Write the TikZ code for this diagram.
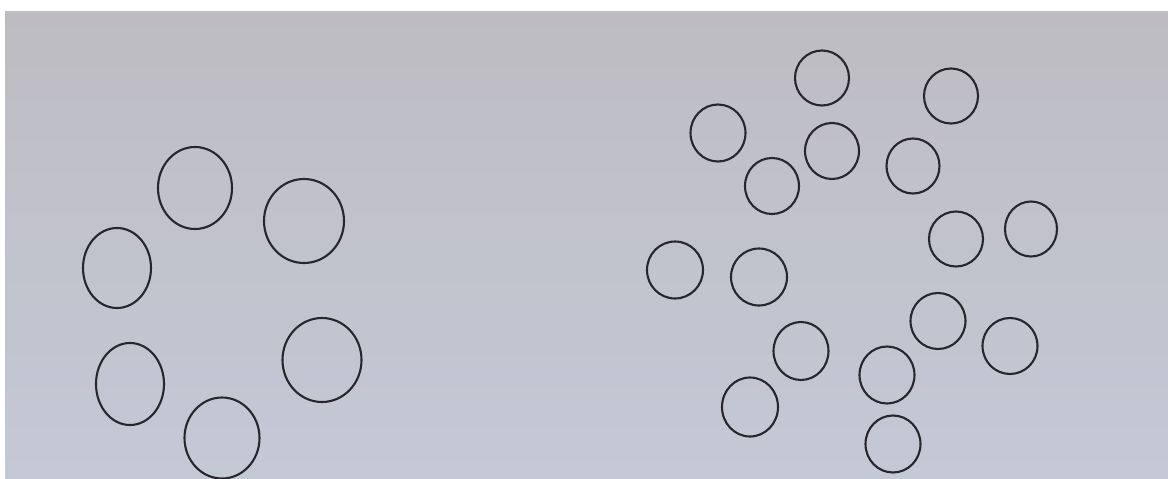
\documentclass[tikz,border=0pt]{standalone}
\usetikzlibrary{shapes.geometric}
\definecolor{paperTop}{RGB}{190,188,194}
\definecolor{paperMid}{RGB}{210,210,216}
\definecolor{paperBot}{RGB}{196,201,214}
\definecolor{ink}{RGB}{38,38,44}
\tikzset{
  ring/.style={ellipse, draw=ink, line width=2.1pt, inner sep=0pt, fill=none},
}
\begin{document}
\begin{tikzpicture}[x=1pt,y=-1pt]
\useasboundingbox (0,0) rectangle (1168,479);
\fill[white] (0,0) rectangle (1168,479);
\shade[top color=paperTop, middle color=paperMid, bottom color=paperBot] (5,11) rectangle (1168,479);
% left group
\node[ring, minimum width=74pt, minimum height=82pt] (L1) at (195,188) {};
\node[ring, minimum width=80pt, minimum height=84pt] (L2) at (304,221) {};
\node[ring, minimum width=68pt, minimum height=80pt] (L3) at (117,268) {};
\node[ring, minimum width=68pt, minimum height=82pt] (L4) at (130,384) {};
\node[ring, minimum width=79pt, minimum height=84pt] (L5) at (322,360) {};
\node[ring, minimum width=75pt, minimum height=81pt] (L6) at (222,438) {};
% right group
\node[ring, minimum width=54pt, minimum height=55pt] (R1) at (822,78) {};
\node[ring, minimum width=54pt, minimum height=55pt] (R2) at (951,96) {};
\node[ring, minimum width=55pt, minimum height=57pt] (R3) at (718,133) {};
\node[ring, minimum width=54pt, minimum height=56pt] (R4) at (832,151) {};
\node[ring, minimum width=53pt, minimum height=55pt] (R5) at (913,166) {};
\node[ring, minimum width=54pt, minimum height=56pt] (R6) at (772,186) {};
\node[ring, minimum width=54pt, minimum height=55pt] (R7) at (956,239) {};
\node[ring, minimum width=52pt, minimum height=55pt] (R8) at (1031,229) {};
\node[ring, minimum width=56pt, minimum height=57pt] (R9) at (675,270) {};
\node[ring, minimum width=56pt, minimum height=57pt] (R10) at (759,277) {};
\node[ring, minimum width=55pt, minimum height=56pt] (R11) at (938,321) {};
\node[ring, minimum width=55pt, minimum height=56pt] (R12) at (1010,346) {};
\node[ring, minimum width=55pt, minimum height=58pt] (R13) at (801,351) {};
\node[ring, minimum width=55pt, minimum height=57pt] (R14) at (887,375) {};
\node[ring, minimum width=56pt, minimum height=59pt] (R15) at (750,407) {};
\node[ring, minimum width=55pt, minimum height=57pt] (R16) at (893,444) {};
\end{tikzpicture}
\end{document}
